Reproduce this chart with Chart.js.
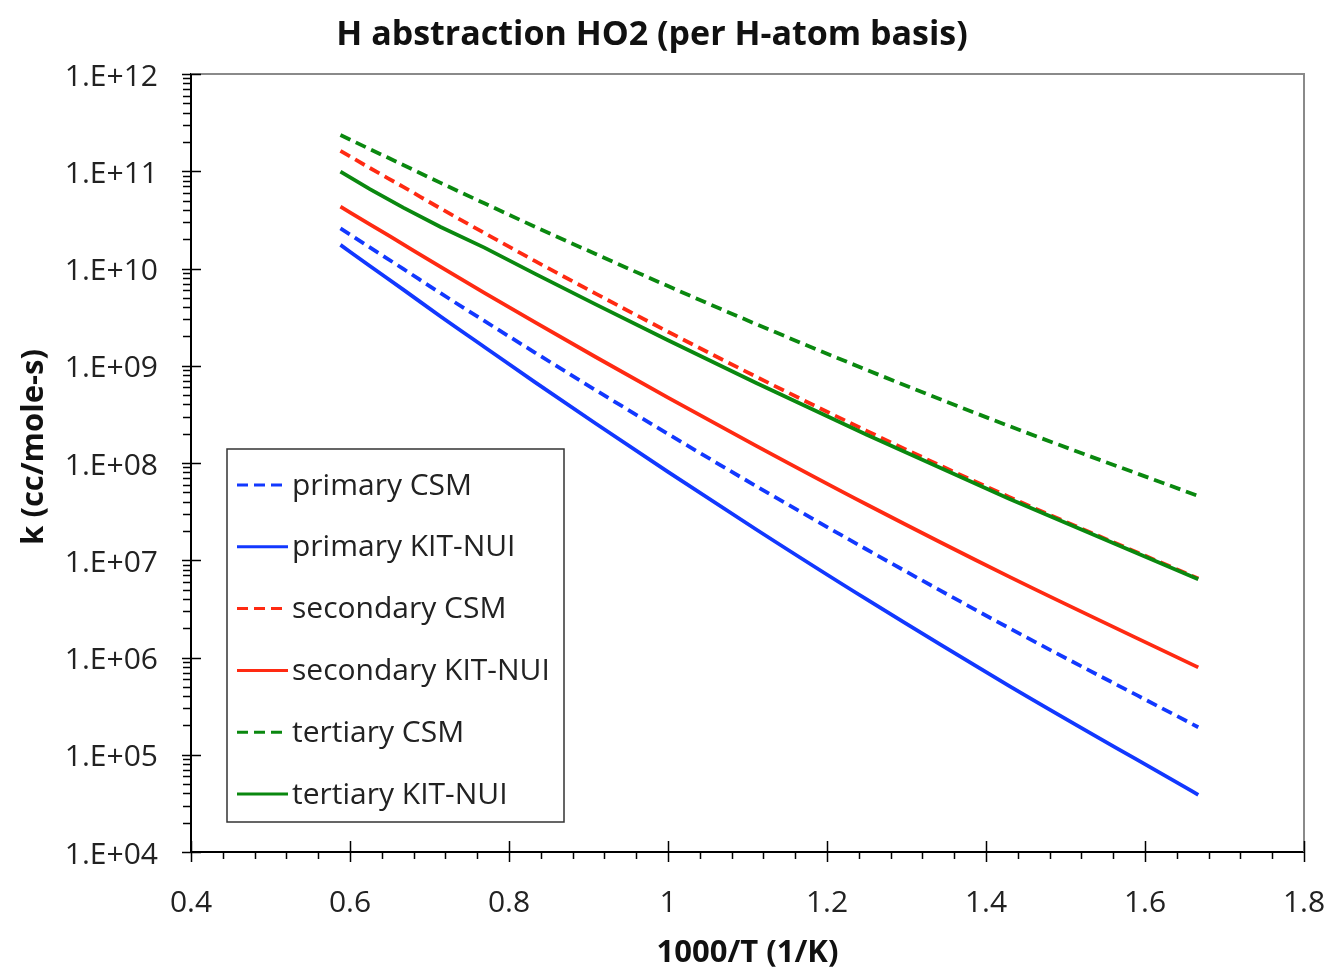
<!DOCTYPE html>
<html lang="en">

<head>
    <meta charset="UTF-8">
    <title>H abstraction HO2</title>
    <script src="https://cdn.jsdelivr.net/npm/chart.js"></script>
    <style>
        body {
            margin: 0;
            background: #fff;
        }

        #chart {
            display: block;
        }
    </style>
</head>

<body>
    <canvas id="chart" width="1328" height="969"></canvas>

    <script>
        // 1000/T (1/K), T = 1700 ... 600 K
        const invT = [0.588, 0.625, 0.667, 0.714, 0.769, 0.833, 0.909, 1.0, 1.111, 1.25, 1.429, 1.667];

        const primaryCSM = [2.58e10, 1.65e10, 9.91e9, 5.57e9, 2.89e9, 1.36e9, 5.62e8, 1.99e8, 5.78e7, 1.29e7, 2.01e6, 1.92e5];
        const primaryKIT = [1.75e10, 1.06e10, 6.07e9, 3.21e9, 1.56e9, 6.74e8, 2.55e8, 8.12e7, 2.07e7, 3.95e6, 5.12e5, 3.87e4];
        const secondaryCSM = [1.62e11, 1.08e11, 6.90e10, 4.14e10, 2.32e10, 1.19e10, 5.52e9, 2.24e9, 7.71e8, 2.14e8, 4.48e7, 6.49e6];
        const secondaryKIT = [4.32e10, 2.85e10, 1.77e10, 1.04e10, 5.63e9, 2.79e9, 1.23e9, 4.71e8, 1.50e8, 3.74e7, 6.78e6, 7.91e5];
        const tertiaryCSM = [2.36e11, 1.69e11, 1.16e11, 7.59e10, 4.68e10, 2.68e10, 1.41e10, 6.59e9, 2.68e9, 9.06e8, 2.40e8, 4.58e7];
        const tertiaryKIT = [9.89e10, 6.54e10, 4.22e10, 2.67e10, 1.64e10, 8.81e9, 4.28e9, 1.83e9, 6.66e8, 1.95e8, 4.30e7, 6.39e6];

        const seriesNames = ["primary CSM", "primary KIT-NUI", "secondary CSM", "secondary KIT-NUI", "tertiary CSM", "tertiary KIT-NUI"];
        const seriesData = [primaryCSM, primaryKIT, secondaryCSM, secondaryKIT, tertiaryCSM, tertiaryKIT];
        const seriesColors = ["#1238ff", "#1238ff", "#ff2a12", "#ff2a12", "#0a880f", "#0a880f"];
        const seriesDashed = [true, false, true, false, true, false];

        const yExponents = [4, 5, 6, 7, 8, 9, 10, 11, 12];

        const FONT = "'Open Sans', 'Noto Sans', sans-serif";

        const datasets = seriesNames.map((name, i) => ({
            label: name,
            data: invT.map((x, j) => ({ x: x, y: seriesData[i][j] })),
            borderColor: seriesColors[i],
            borderWidth: 3.8,
            borderDash: seriesDashed[i] ? [11, 6] : [],
            pointRadius: 0,
            fill: false,
            // tertiary KIT-NUI keeps its small bends, the others are smooth
            cubicInterpolationMode: i === 5 ? "default" : "monotone",
            tension: 0,
            order: seriesNames.length - i
        }));

        // frame, tick marks, y title and the legend box drawn over the plot
        const decorations = {
            id: "decorations",
            afterDraw(chart) {
                const ctx = chart.ctx;
                const area = chart.chartArea;
                const xs = chart.scales.x;
                const ys = chart.scales.y;

                ctx.save();
                // top and right frame
                ctx.strokeStyle = "#8a8a8a";
                ctx.lineWidth = 2;
                ctx.beginPath();
                ctx.moveTo(area.left, area.top);
                ctx.lineTo(area.right, area.top);
                ctx.lineTo(area.right, area.bottom);
                ctx.stroke();

                ctx.strokeStyle = "#000";
                ctx.lineWidth = 1.5;
                ctx.beginPath();
                // y major / minor ticks
                yExponents.forEach(e => {
                    const py = Math.round(ys.getPixelForValue(Math.pow(10, e))) + 0.5;
                    ctx.moveTo(area.left - 9, py);
                    ctx.lineTo(area.left + 10, py);
                    if (e < yExponents[yExponents.length - 1]) {
                        for (let k = 2; k <= 9; k++) {
                            const pm = Math.round(ys.getPixelForValue(k * Math.pow(10, e))) + 0.5;
                            ctx.moveTo(area.left - 8, pm);
                            ctx.lineTo(area.left, pm);
                        }
                    }
                });
                // x major / minor ticks
                for (let i = 0; i <= 35; i++) {
                    const v = 0.4 + i * 0.04;
                    const px = Math.round(xs.getPixelForValue(v)) + 0.5;
                    if (i % 5 === 0) {
                        ctx.moveTo(px, area.bottom - 11);
                        ctx.lineTo(px, area.bottom + 10);
                    } else {
                        ctx.moveTo(px, area.bottom);
                        ctx.lineTo(px, area.bottom + 7);
                    }
                }
                ctx.stroke();

                // y axis title, a little above the middle of the plot
                ctx.fillStyle = "#111";
                ctx.font = "bold 31px " + FONT;
                ctx.textAlign = "center";
                ctx.textBaseline = "middle";
                ctx.translate(34, (area.top + area.bottom) / 2 - 16);
                ctx.rotate(-Math.PI / 2);
                ctx.fillText("k (cc/mole-s)", 0, 0);
                ctx.setTransform(1, 0, 0, 1, 0, 0);

                // legend
                const bx = area.left + 36, by = area.top + 375, bw = 337, bh = 373;
                ctx.fillStyle = "#fff";
                ctx.fillRect(bx, by, bw, bh);
                ctx.strokeStyle = "#333";
                ctx.lineWidth = 1.5;
                ctx.strokeRect(bx, by, bw, bh);

                ctx.font = "30px " + FONT;
                ctx.textBaseline = "middle";
                ctx.textAlign = "left";
                chart.data.datasets.forEach((ds, i) => {
                    const ry = by + 36 + i * 61.8;
                    ctx.strokeStyle = ds.borderColor;
                    ctx.lineWidth = 3;
                    ctx.setLineDash(ds.borderDash.length ? [11, 6] : []);
                    ctx.beginPath();
                    ctx.moveTo(bx + 10, ry);
                    ctx.lineTo(bx + 61, ry);
                    ctx.stroke();
                    ctx.setLineDash([]);
                    ctx.fillStyle = "#222";
                    ctx.fillText(ds.label, bx + 65, ry + 1);
                });
                ctx.restore();
            }
        };

        new Chart(document.getElementById("chart"), {
            type: "line",
            data: { datasets: datasets },
            options: {
                responsive: false,
                animation: false,
                devicePixelRatio: 1,
                layout: { padding: { left: 0, right: 24, top: 0, bottom: 0 } },
                plugins: {
                    legend: { display: false },
                    tooltip: { enabled: false },
                    title: {
                        display: true,
                        text: "H abstraction HO2 (per H-atom basis)",
                        color: "#111",
                        font: { family: FONT, size: 34, weight: "bold", lineHeight: 1.2 },
                        padding: { top: 15, bottom: 18.2 }
                    }
                },
                scales: {
                    x: {
                        type: "linear",
                        min: 0.4,
                        max: 1.8,
                        grid: { display: false, drawTicks: false },
                        border: { display: true, color: "#000", width: 2 },
                        ticks: {
                            stepSize: 0.2,
                            padding: 33,
                            color: "#222",
                            font: { family: FONT, size: 30 },
                            callback: v => String(Number(v.toFixed(1)))
                        },
                        title: {
                            display: true,
                            text: "1000/T (1/K)",
                            color: "#111",
                            font: { family: FONT, size: 31, weight: "bold", lineHeight: 1.0 },
                            padding: { top: 0, bottom: 0 }
                        },
                        afterFit: s => {
                            s.height = 117;
                            s.paddingLeft = 0;
                            s.paddingRight = 0;
                        }
                    },
                    y: {
                        type: "logarithmic",
                        min: 1e4,
                        max: 1e12,
                        grid: { display: false, drawTicks: false },
                        border: { display: true, color: "#000", width: 2 },
                        afterBuildTicks: s => {
                            s.ticks = yExponents.map(e => ({ value: Math.pow(10, e) }));
                        },
                        ticks: {
                            padding: 33,
                            labelOffset: 3,
                            color: "#222",
                            font: { family: FONT, size: 30 },
                            callback: v => {
                                const e = Math.round(Math.log10(v));
                                return "1.E+" + (e < 10 ? "0" + e : e);
                            }
                        },
                        title: { display: false },
                        afterFit: s => {
                            s.width = 191;
                            s.paddingTop = 0;
                            s.paddingBottom = 0;
                        }
                    }
                }
            },
            plugins: [decorations]
        });
    </script>
</body>

</html>
